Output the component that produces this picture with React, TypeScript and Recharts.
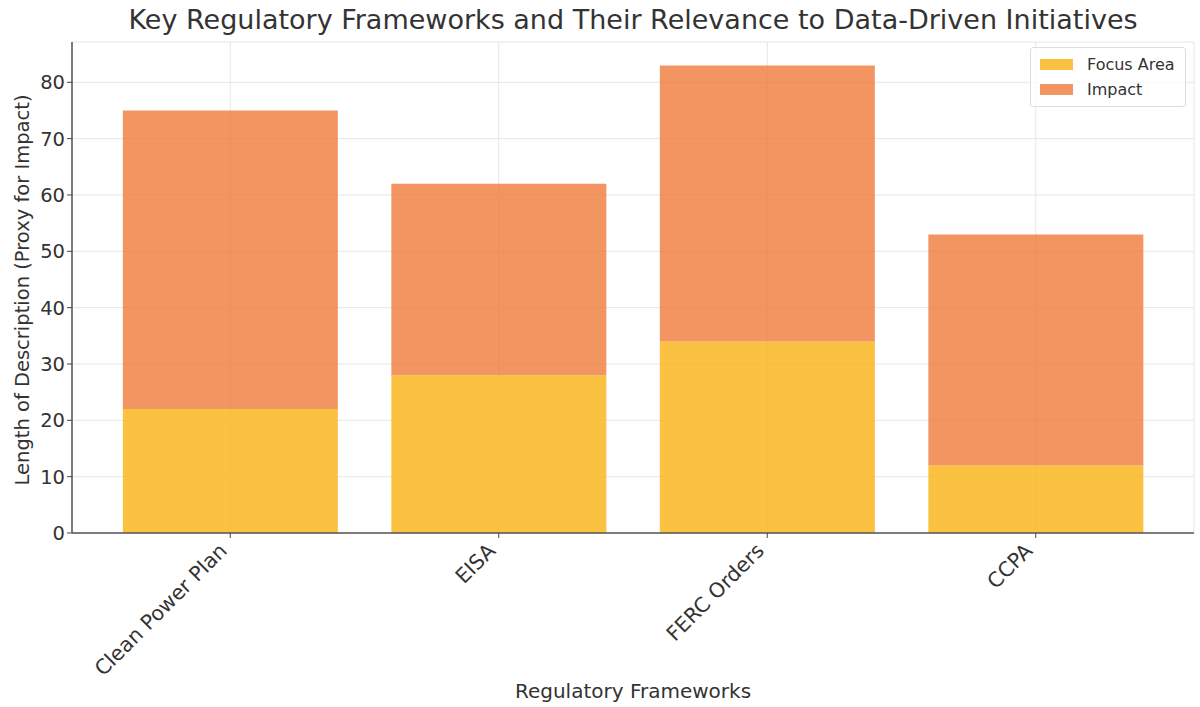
import React from 'react';
import { BarChart, Bar, XAxis, YAxis, CartesianGrid } from 'recharts';

const categories = ['Clean Power Plan', 'EISA', 'FERC Orders', 'CCPA'];
const focusArea = [22, 28, 34, 12];
const impact = [53, 34, 49, 41];
const yTicks = [0, 10, 20, 30, 40, 50, 60, 70, 80];

const data = categories.map((name, i) => ({ name, focus: focusArea[i], impact: impact[i] }));

const FONT = '"DejaVu Sans", sans-serif';
const TEXT = '#333333';

const XTick = (props: any) => {
  const { x, y, payload } = props;
  return (
    <g transform={`translate(${x - 2},${y + 12})`}>
      <text x={0} y={0} transform="rotate(-45)" textAnchor="end" fontSize={20.5} fill={TEXT} fontFamily={FONT}>
        {payload.value}
      </text>
    </g>
  );
};

export default function App() {
  return (
    <div style={{ position: 'absolute', left: 0, top: 0, width: 1200, height: 707, background: '#fff', fontFamily: FONT }}>
      <BarChart
        width={1200}
        height={707}
        data={data}
        margin={{ top: 42, right: 6, bottom: 54, left: 22 }}
        barCategoryGap="10%"
      >
        <CartesianGrid stroke="#e6e6e6" strokeWidth={1} />
        <XAxis
          dataKey="name"
          height={120}
          padding={{ left: 24, right: 24 }}
          tick={<XTick />}
          tickSize={5}
          tickLine={{ stroke: '#444' }}
          axisLine={{ stroke: '#555', strokeWidth: 1.5 }}
          interval={0}
        />
        <YAxis
          width={50}
          domain={[0, 87.15]}
          ticks={yTicks}
          tickSize={5}
          tickLine={{ stroke: '#444' }}
          axisLine={{ stroke: '#555', strokeWidth: 1.5 }}
          tick={{ fontSize: 19.5, fill: TEXT, fontFamily: FONT }}
          allowDataOverflow
        />
        <Bar dataKey="focus" stackId="a" fill="#fab51c" fillOpacity={0.84} isAnimationActive={false} />
        <Bar dataKey="impact" stackId="a" fill="#f07a3a" fillOpacity={0.8} isAnimationActive={false} />
      </BarChart>
      <div style={{ position: 'absolute', left: 0, width: 1266, top: 4, textAlign: 'center', fontSize: 27, color: TEXT, whiteSpace: 'nowrap' }}>
        Key Regulatory Frameworks and Their Relevance to Data-Driven Initiatives
      </div>
      <div style={{ position: 'absolute', left: 0, width: 1266, top: 679, textAlign: 'center', fontSize: 20, color: TEXT, whiteSpace: 'nowrap' }}>
        Regulatory Frameworks
      </div>
      <div style={{ position: 'absolute', left: 22, top: 290, width: 0, height: 0 }}>
        <div style={{ position: 'absolute', left: 0, top: 0, transform: 'translate(-50%, -50%) rotate(-90deg)', fontSize: 19.5, color: TEXT, whiteSpace: 'nowrap' }}>
          Length of Description (Proxy for Impact)
        </div>
      </div>
      <div style={{ position: 'absolute', left: 1030, top: 47, width: 156, height: 60, border: '1px solid #dddddd', borderRadius: 3, background: 'rgba(255,255,255,0.8)', boxSizing: 'border-box' }}>
        {[['Focus Area', 'rgba(250,181,28,0.84)'], ['Impact', 'rgba(240,122,58,0.8)']].map(([label, color], i) => (
          <div key={label} style={{ position: 'absolute', left: 9, top: 7 + i * 25, height: 18, display: 'flex', alignItems: 'center' }}>
            <div style={{ width: 33, height: 11, background: color }} />
            <div style={{ marginLeft: 14, fontSize: 16, color: TEXT }}>{label}</div>
          </div>
        ))}
      </div>
    </div>
  );
}
